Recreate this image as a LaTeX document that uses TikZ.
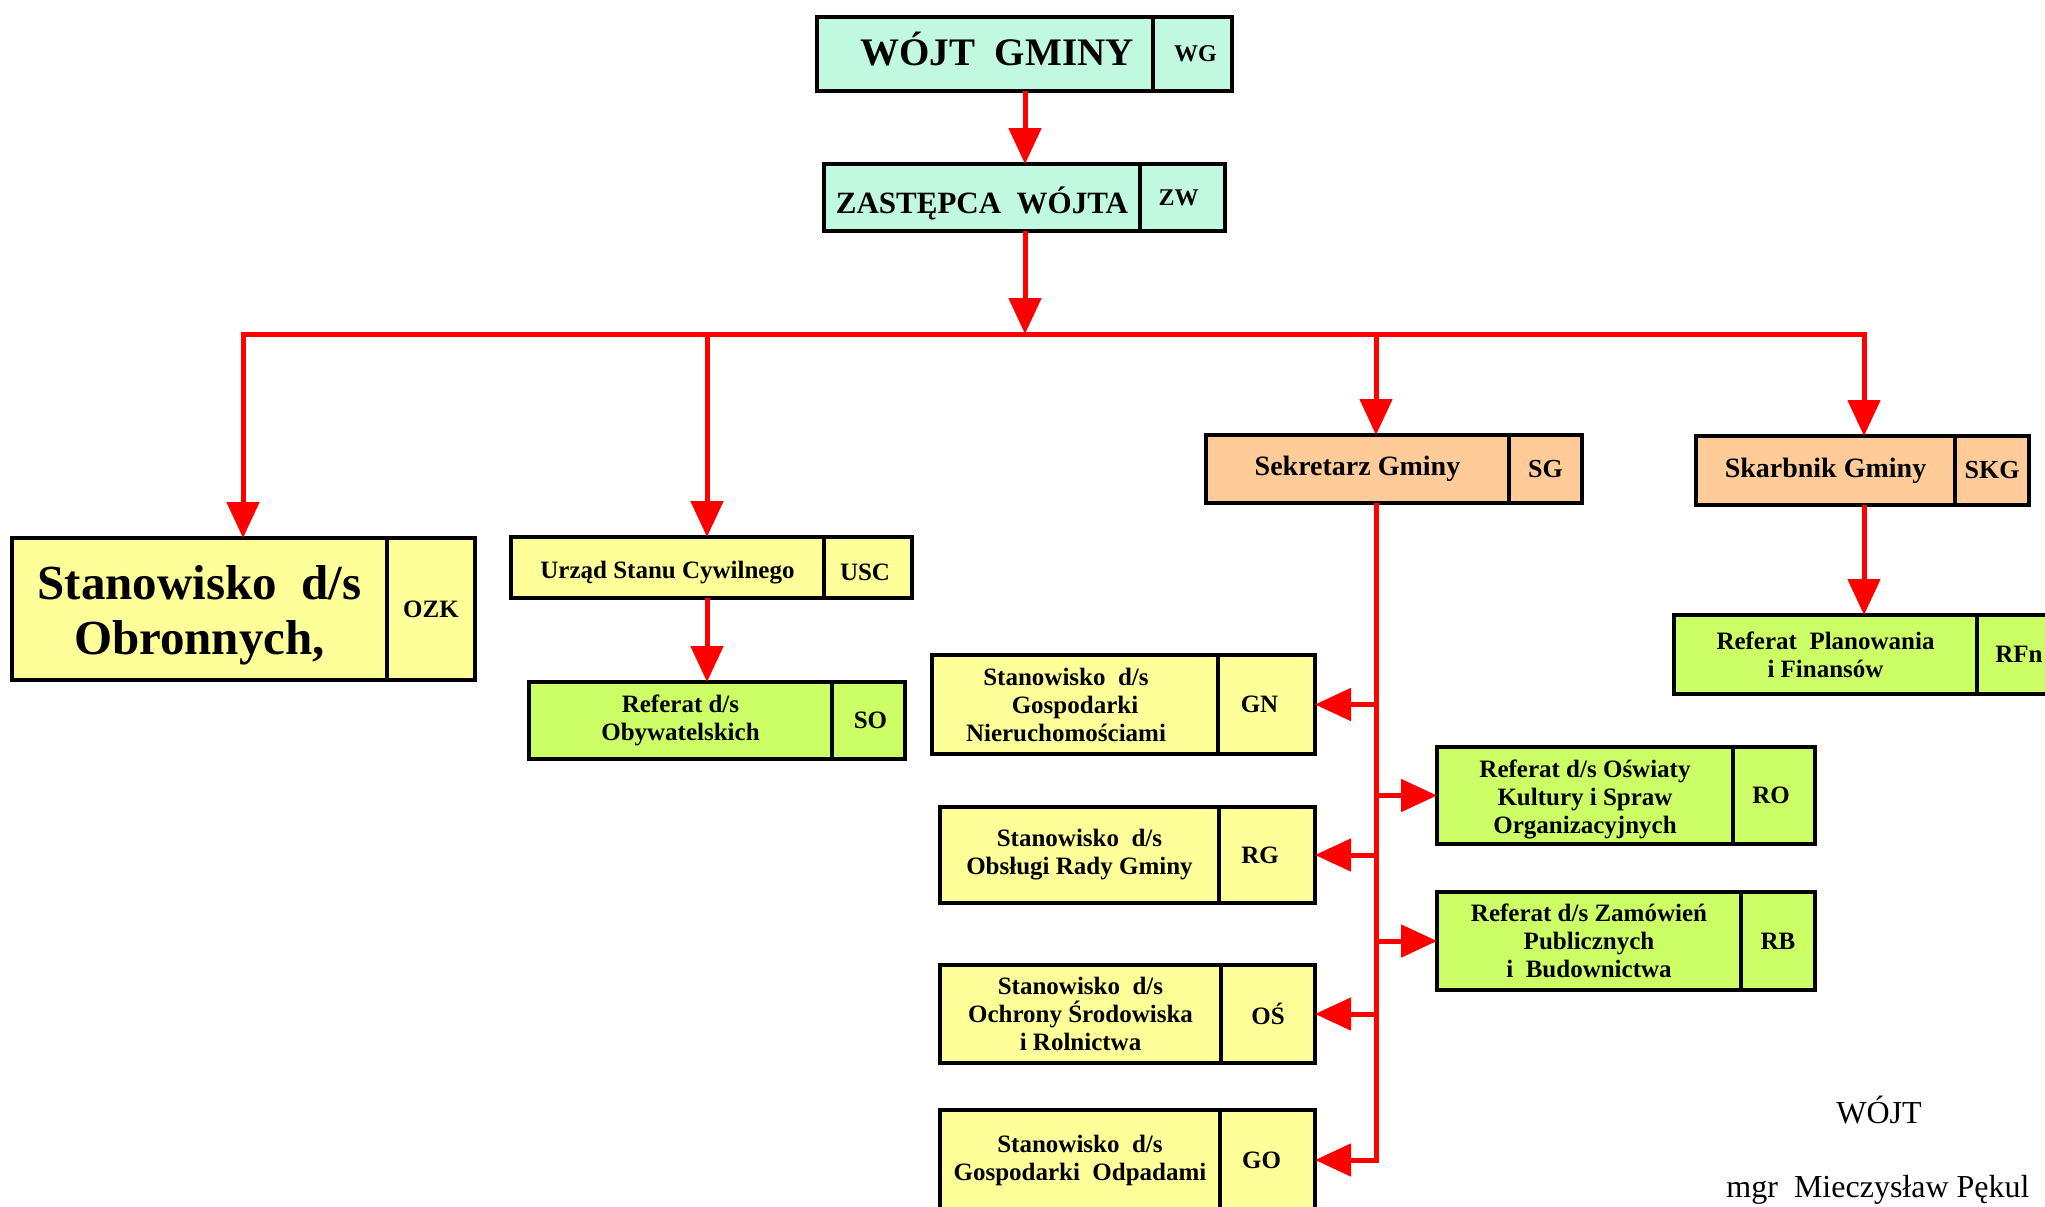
\documentclass[tikz,border=0pt]{standalone}
\usepackage{fontspec}
\setmainfont{Liberation Serif}
\usetikzlibrary{arrows.meta,calc}
\definecolor{mint}{HTML}{C0F8E0}
\definecolor{yel}{HTML}{FFFF99}
\definecolor{grn}{HTML}{CCFF66}
\definecolor{peach}{HTML}{FFCC99}
\definecolor{arrred}{HTML}{FF0000}
\newcommand\fsz[2]{\bfseries\fontsize{#1}{#2}\selectfont}
\begin{document}
\begin{tikzpicture}[x=1pt,y=-1pt,
  cell/.style={draw=black, line width=4.5pt, inner sep=0pt, outer sep=0pt, anchor=north west, align=center, font=\fsz{25}{28}},
  link/.style={draw=arrred, line width=5pt},
  arr/.style={link, -{Triangle[length=36pt,width=32pt]}},
  sig/.style={anchor=base, font=\fontsize{32}{32}\selectfont}
]
\useasboundingbox (0,0) rectangle (2045,1207);
\clip (0,0) rectangle (2045,1207);
\fill[white] (0,0) rectangle (2045,1207);

% WG
\node[cell, fill=mint, minimum width=336pt, minimum height=74pt, font=\fsz{39}{39}] (wg) at (817,17) {\hspace*{24pt}WÓJT\ \ GMINY\rule[-10pt]{0pt}{0pt}};
\node[cell, fill=mint, minimum width=79pt, minimum height=74pt, font=\fsz{24}{24}] (wg-c) at (wg.north east) {\hspace*{6pt}WG};
% ZW
\node[cell, fill=mint, minimum width=316pt, minimum height=67pt, font=\fsz{31}{31}] (zw) at (824,164) {\rule{0pt}{38pt}ZASTĘPCA\ \ WÓJTA};
\node[cell, fill=mint, minimum width=85pt, minimum height=67pt, font=\fsz{24}{24}] (zw-c) at (zw.north east) {ZW\hspace*{8pt}};
% OZK
\node[cell, fill=yel, minimum width=375pt, minimum height=142pt, font=\fsz{49}{55}] (ozk) at (12,538) {\rule{0pt}{46pt}Stanowisko\ \ d/s\\Obronnych,};
\node[cell, fill=yel, minimum width=88pt, minimum height=142pt] (ozk-c) at (ozk.north east) {OZK};
% USC
\node[cell, fill=yel, minimum width=313pt, minimum height=61pt] (usc) at (511,537) {\rule{0pt}{28pt}Urząd Stanu Cywilnego};
\node[cell, fill=yel, minimum width=88pt, minimum height=61pt] (usc-c) at (usc.north east) {\rule{0pt}{26pt}USC\hspace*{6pt}};
% SO
\node[cell, fill=grn, minimum width=303pt, minimum height=77pt] (so) at (529,682) {Referat d/s\\Obywatelskich};
\node[cell, fill=grn, minimum width=73pt, minimum height=77pt] (so-c) at (so.north east) {\hspace*{4pt}SO};
% SG
\node[cell, fill=peach, minimum width=303pt, minimum height=68pt, font=\fsz{28}{28}] (sg) at (1206,435) {Sekretarz Gminy};
\node[cell, fill=peach, minimum width=73pt, minimum height=68pt, font=\fsz{26}{26}] (sg-c) at (sg.north east) {SG};
% SKG
\node[cell, fill=peach, minimum width=259pt, minimum height=69pt, font=\fsz{28}{28}] (skg) at (1696,436) {Skarbnik Gminy};
\node[cell, fill=peach, minimum width=74pt, minimum height=69pt, font=\fsz{26}{26}] (skg-c) at (skg.north east) {SKG};
% RFn
\node[cell, fill=grn, minimum width=303pt, minimum height=79pt] (rfn) at (1674,615) {Referat\ \ Planowania\\i Finansów};
\node[cell, fill=grn, minimum width=84pt, minimum height=79pt] (rfn-c) at (rfn.north east) {RFn};
% GN
\node[cell, fill=yel, minimum width=286pt, minimum height=99pt] (gn) at (932,655) {Stanowisko\ \ d/s\hspace*{18pt}\\Gospodarki\hspace*{18pt}\\Nieruchomościami\hspace*{18pt}};
\node[cell, fill=yel, minimum width=97pt, minimum height=99pt] (gn-c) at (gn.north east) {GN\hspace*{14pt}};
% RG
\node[cell, fill=yel, minimum width=279pt, minimum height=96pt] (rg) at (940,807) {Stanowisko\ \ d/s\\Obsługi Rady Gminy};
\node[cell, fill=yel, minimum width=96pt, minimum height=96pt] (rg-c) at (rg.north east) {RG\hspace*{14pt}};
% OS
\node[cell, fill=yel, minimum width=281pt, minimum height=98pt] (os) at (940,965) {Stanowisko\ \ d/s\\Ochrony Środowiska\\i Rolnictwa};
\node[cell, fill=yel, minimum width=94pt, minimum height=98pt] (os-c) at (os.north east) {OŚ};
% GO
\node[cell, fill=yel, minimum width=280pt, minimum height=100pt] (go) at (940,1110) {Stanowisko\ \ d/s\\Gospodarki\ \ Odpadami};
\node[cell, fill=yel, minimum width=95pt, minimum height=100pt] (go-c) at (go.north east) {GO\hspace*{12pt}};
% RO
\node[cell, fill=grn, minimum width=296pt, minimum height=97pt] (ro) at (1437,747) {\rule{0pt}{26pt}Referat d/s Oświaty\\Kultury i Spraw\\Organizacyjnych};
\node[cell, fill=grn, minimum width=82pt, minimum height=97pt] (ro-c) at (ro.north east) {RO\hspace*{6pt}};
% RB
\node[cell, fill=grn, minimum width=304pt, minimum height=98pt] (rb) at (1437,892) {Referat d/s Zamówień\\Publicznych\\i\ \ Budownictwa};
\node[cell, fill=grn, minimum width=74pt, minimum height=98pt] (rb-c) at (rb.north east) {RB};

% signature
\node[sig] (sig1) at (1879,1123) {WÓJT};
\node[sig] (sig2) at (1878,1197) {mgr\ \ Mieczysław Pękul};

% connectors
\coordinate (bus) at (1025,334);
\coordinate (xozk) at (243,0);
\coordinate (xusc) at (707,0);
\coordinate (xsg) at (1376,0);
\coordinate (xskg) at (1864,0);

\draw[arr] (wg.south -| bus) -- (zw.north -| bus);
\draw[arr] (zw.south -| bus) -- (bus);
\draw[arr] (bus) -| (ozk.north -| xozk);
\draw[arr] (bus) -| (skg.north -| xskg);
\draw[arr] (bus -| xusc) -- (usc.north -| xusc);
\draw[arr] (bus -| xsg) -- (sg.north -| xsg);
\draw[arr] (usc.south -| xusc) -- (so.north -| xusc);
\draw[arr] (skg.south -| xskg) -- (rfn.north -| xskg);

\draw[arr] (sg.south -| xsg) |- (go-c.east);
\draw[arr] (gn-c.east -| xsg) -- (gn-c.east);
\draw[arr] (rg-c.east -| xsg) -- (rg-c.east);
\draw[arr] (os-c.east -| xsg) -- (os-c.east);
\draw[arr] (ro.west -| xsg) -- (ro.west);
\draw[arr] (rb.west -| xsg) -- (rb.west);
\end{tikzpicture}
\end{document}
